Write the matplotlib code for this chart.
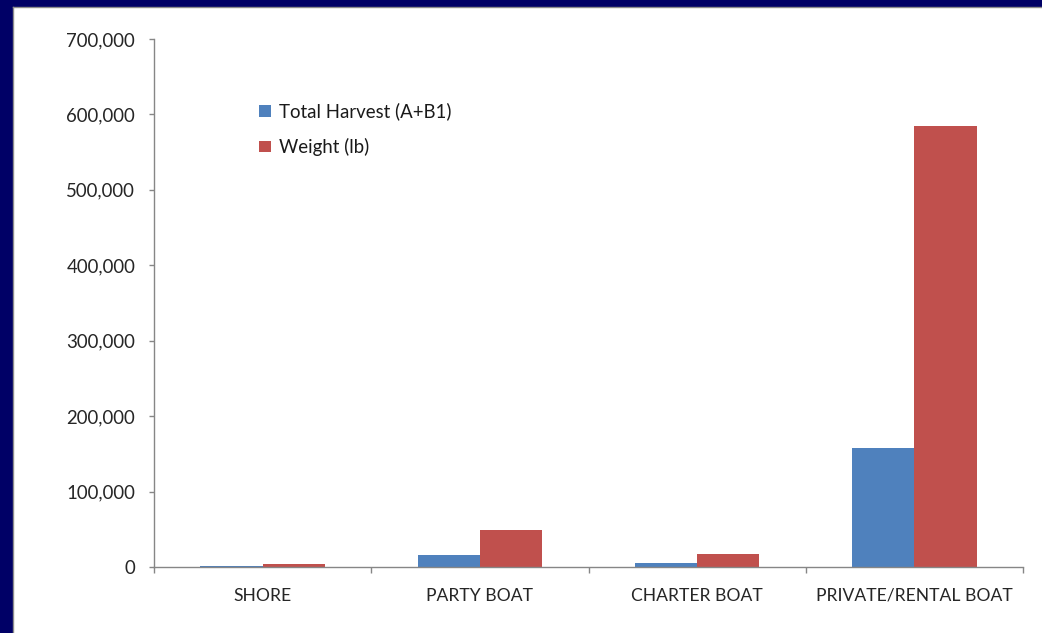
import matplotlib
matplotlib.use("Agg")
import matplotlib.pyplot as plt
from matplotlib.lines import Line2D
from matplotlib.patches import Rectangle
from matplotlib.ticker import FuncFormatter, FixedLocator
import numpy as np

categories = ["SHORE", "PARTY BOAT", "CHARTER BOAT", "PRIVATE/RENTAL BOAT"]
total_harvest = [1500, 16300, 5700, 157800]
weight_lb = [4500, 48700, 17600, 585000]
series_names = ["Total Harvest (A+B1)", "Weight (lb)"]
yticks = [0, 100000, 200000, 300000, 400000, 500000, 600000, 700000]

plt.rcParams['font.family'] = ['Lato', 'DejaVu Sans']

W, H = 1042, 633
fig = plt.figure(figsize=(W/100, H/100), dpi=100)
fig.patch.set_facecolor('white')

# navy border on left and top
navy = '#000066'
fig.add_artist(Rectangle((0, 0), 12.5/W, 1, transform=fig.transFigure,
                         facecolor=navy, edgecolor='none', zorder=1))
fig.add_artist(Rectangle((0, 1 - 6.5/H), 1, 6.5/H, transform=fig.transFigure,
                         facecolor=navy, edgecolor='none', zorder=1))
fig.add_artist(Line2D([12.5/W, 12.5/W], [0, 1 - 6.5/H], transform=fig.transFigure,
                      color='#8c8c8c', lw=1.0, zorder=3))
fig.add_artist(Line2D([12.5/W, 1], [1 - 6.5/H, 1 - 6.5/H], transform=fig.transFigure,
                      color='#8c8c8c', lw=1.0, zorder=3))

ax = fig.add_axes([154/W, 1 - 567/H, (1023 - 154)/W, (567 - 39)/H])
ax.set_facecolor('none')

x = np.arange(len(categories))
w = 0.286
ax.bar(x - w/2, total_harvest, w, color='#4f81bd', label=series_names[0], zorder=2)
ax.bar(x + w/2, weight_lb, w, color='#c0504d', label=series_names[1], zorder=2)

ax.set_xlim(-0.5, len(categories) - 0.5)
ax.set_ylim(0, 700000)
ax.set_yticks(yticks)
ax.yaxis.set_major_formatter(FuncFormatter(lambda v, p: f"{int(v):,}"))

ax.xaxis.set_major_locator(FixedLocator(np.arange(-0.5, len(categories), 1.0)))
ax.xaxis.set_major_formatter(FuncFormatter(lambda v, p: ""))
ax.xaxis.set_minor_locator(FixedLocator(x))
ax.set_xticklabels(categories, minor=True)
ax.tick_params(axis='x', which='major', length=4.3, color='#868686', width=1)
ax.tick_params(axis='x', which='minor', length=0, pad=15, labelsize=12.6, labelcolor='#262626')
ax.tick_params(axis='y', length=3.6, color='#868686', width=1, pad=10, labelsize=13.4, labelcolor='#262626')

for s in ['top', 'right']:
    ax.spines[s].set_visible(False)
for s in ['left', 'bottom']:
    ax.spines[s].set_color('#868686')
    ax.spines[s].set_linewidth(1)

leg = ax.legend(loc='upper left', bbox_to_anchor=(252/W, 1 - 95/H),
                bbox_transform=fig.transFigure, frameon=False, fontsize=13.4,
                handlelength=0.6, handleheight=0.6, handletextpad=0.45,
                labelspacing=0.95, borderaxespad=0)
for t in leg.get_texts():
    t.set_color('#1a1a1a')

fig.savefig("out.png", dpi=100, facecolor=fig.get_facecolor())
